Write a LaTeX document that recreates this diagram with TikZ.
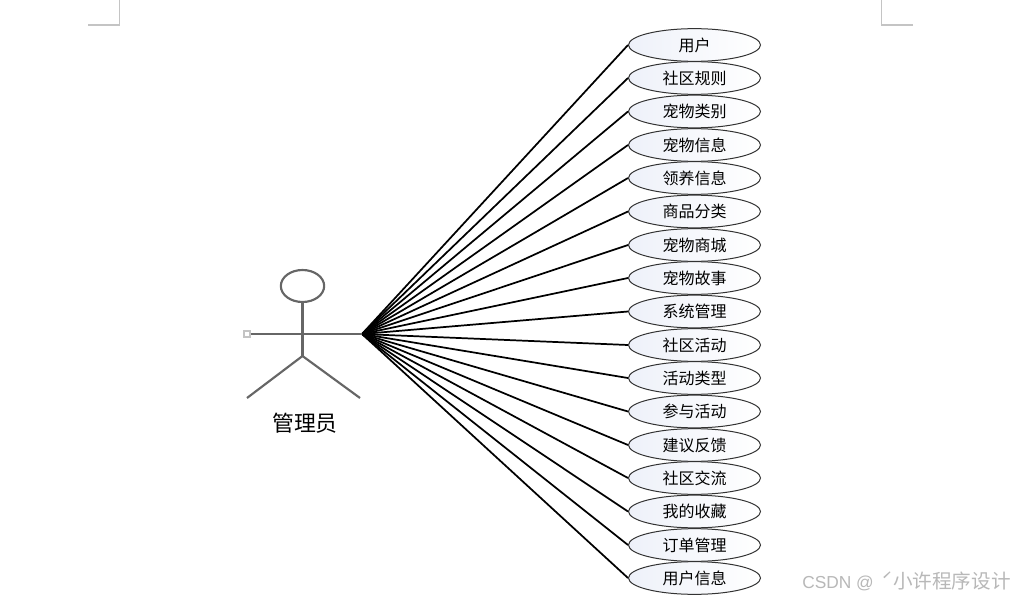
\documentclass[tikz,border=0pt]{standalone}
\usepackage{fontspec}
\setmainfont{Liberation Sans}
\newfontfamily\cjk{Noto Sans CJK SC}
\usetikzlibrary{shapes.geometric}
\definecolor{ucfill}{HTML}{EEF1F9}
\definecolor{actorline}{HTML}{666666}
\definecolor{cropline}{HTML}{C4C4C4}
\definecolor{wm}{HTML}{B8B8B8}
\tikzset{
  uc/.style={ellipse,draw=black!80,line width=0.75pt,left color=ucfill,right color=white,
    minimum width=99pt,minimum height=24.5pt,inner sep=0pt,font=\cjk\fontsize{12}{12}\selectfont},
  link/.style={draw=black,line width=1.3pt},
  actor/.style={draw=actorline,line width=1.6pt},
  crop/.style={draw=cropline,line width=0.8pt},
  lbl/.style={inner sep=0pt,font=\cjk\fontsize{16.4}{17}\selectfont},
  wmark/.style={inner sep=0pt,text=wm,font=\fontsize{13}{14}\selectfont}
}
\begin{document}
\begin{tikzpicture}[x=0.75pt,y=-0.75pt]
\useasboundingbox (0,0) rectangle (1016,599);
\fill[white] (0,0) rectangle (1016,599);
% crop marks
\coordinate (c1a) at (88,25); \coordinate (c1b) at (119.5,25); \coordinate (c1c) at (119.5,0);
\coordinate (c2a) at (913,25); \coordinate (c2b) at (881.5,25); \coordinate (c2c) at (881.5,0);
\draw[crop] (c1a) -- (c1b) -- (c1c);
\draw[crop] (c2a) -- (c2b) -- (c2c);
% hub
\coordinate (hub) at (362,334);
% use cases
\foreach \n/\y/\t in {a/45/用户,b/78/社区规则,c/111.5/宠物类别,d/145/宠物信息,e/178/领养信息,f/211.5/商品分类,g/245/宠物商城,h/278/宠物故事,i/311.5/系统管理,j/345/社区活动,k/378/活动类型,l/411.5/参与活动,m/445/建议反馈,n/478/社区交流,o/511.5/我的收藏,p/545/订单管理,q/578/用户信息}{
  \node[uc] (\n) at (694.5,\y) {\t};
  \draw[link] (hub) -- (\n.west);
}
% actor
\node[ellipse,actor,minimum width=32.5pt,minimum height=24pt,inner sep=0pt] (head) at (302.5,286) {};
\coordinate (crotch) at (302.5,356);
\coordinate (footl) at (247,398);
\coordinate (footr) at (360,398);
\node[draw=cropline,fill=white,line width=0.9pt,minimum size=4.5pt,inner sep=0pt] (hand) at (247,334) {};
\draw[actor] (head.south) -- (crotch);
\draw[actor] (hand.east) -- (hub);
\draw[actor] (footl) -- (crotch) -- (footr);
\node[lbl] (name) at (305,423) {管理员};
% watermark
\node[wmark,anchor=west] (mark) at (802,581) {CSDN @ \hspace{2pt}{\cjk\fontsize{14.7}{15}\selectfont ˊ小许程序设计}};
\end{tikzpicture}
\end{document}
